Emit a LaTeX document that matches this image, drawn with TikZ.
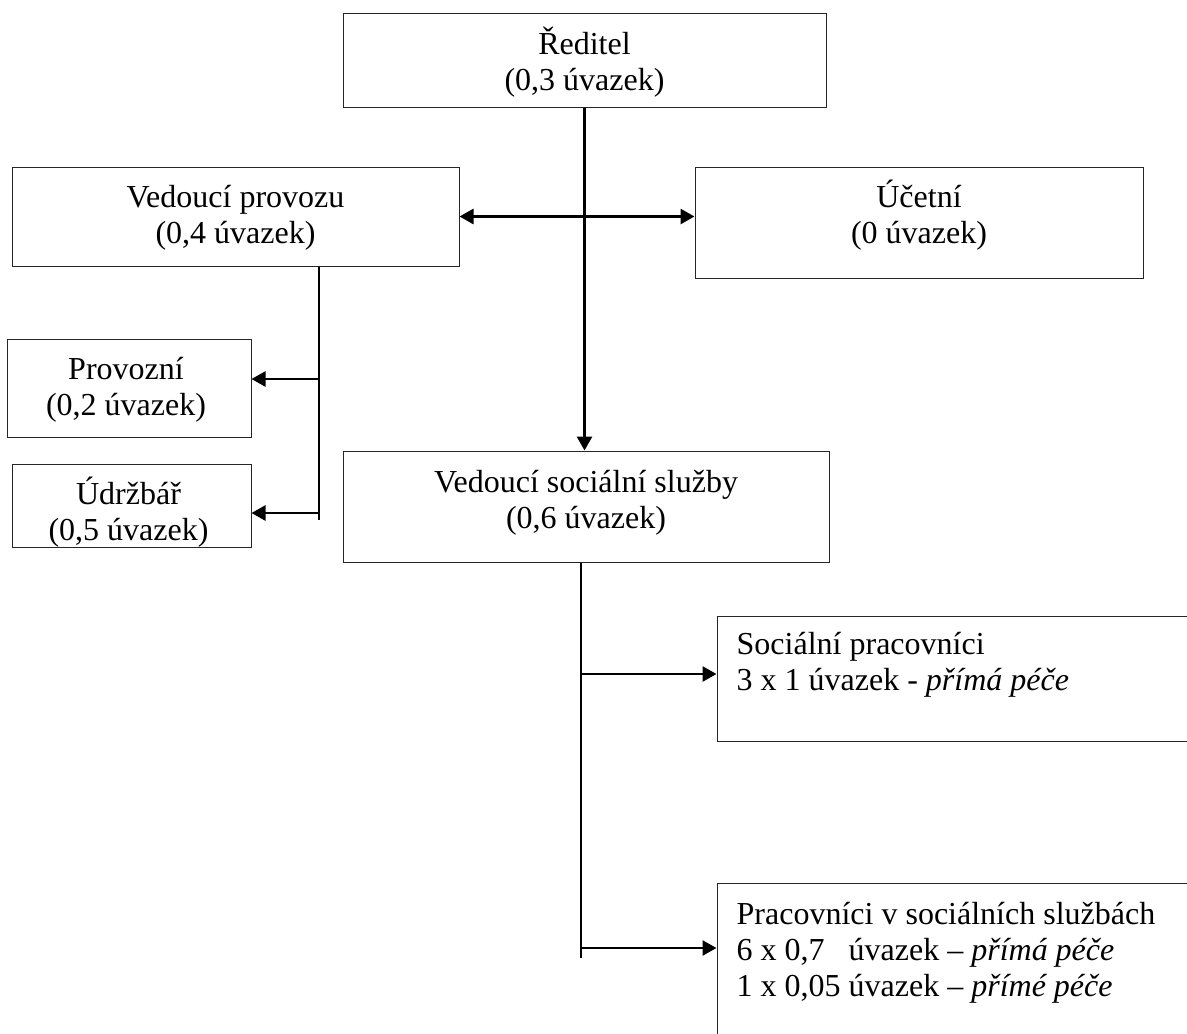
\documentclass[tikz,border=0pt]{standalone}
\usepackage{fontspec}
\setmainfont{Liberation Serif}
\usetikzlibrary{positioning,arrows.meta}
\tikzset{
  unit/.style={draw=black!85, line width=1pt, inner sep=0pt},
  lbl/.style={inner sep=0pt, align=center, font=\fontsize{32}{36}\selectfont},
  link/.style={line width=2.7pt},
  arr/.style={link, -{Triangle[length=14pt,width=15pt]}}
}
\begin{document}
\begin{tikzpicture}[x=1pt,y=-1pt]
  \useasboundingbox (0,0) rectangle (1187,1034);
  \clip (0,0) rectangle (1187,1034);
  \node[unit, minimum width=483pt, minimum height=94pt] (red) at (584.5,60) {};
  \node[unit, minimum width=447pt, minimum height=99pt] (vp) at (235.5,216.5) {};
  \node[unit, minimum width=448pt, minimum height=111pt] (uc) at (919,222.5) {};
  \node[unit, minimum width=244pt, minimum height=98pt] (prov) at (129,388) {};
  \node[unit, minimum width=239pt, minimum height=83pt] (udr) at (131.5,505.5) {};
  \node[unit, minimum width=486pt, minimum height=111pt] (vss) at (586,506.5) {};
  \node[unit, minimum width=483pt, minimum height=125pt] (spr) at (958.5,678.5) {};
  \node[unit, minimum width=483pt, minimum height=177pt] (pvs) at (958.5,971.5) {};

  \node[lbl, below=12pt of red.north] (redt) {\rule{0pt}{30pt}Ředitel\\(0,3 úvazek)};
  \node[lbl, below=11pt of vp.north] (vpt) {\rule{0pt}{30pt}Vedoucí provozu\\(0,4 úvazek)};
  \node[lbl, below=11pt of uc.north] (uct) {\rule{0pt}{30pt}Účetní\\(0 úvazek)};
  \node[lbl, below=11pt of prov.north, xshift=-3pt] (provt) {\rule{0pt}{30pt}Provozní\\(0,2 úvazek)};
  \node[lbl, below=11pt of udr.north, xshift=-3pt] (udrt) {\rule{0pt}{30pt}Údržbář\\(0,5 úvazek)};
  \node[lbl, below=12pt of vss.north] (vsst) {\rule{0pt}{30pt}Vedoucí sociální služby\\(0,6 úvazek)};
  \node[lbl, align=left, below right=9pt and 20pt of spr.north west] (sprt)
    {\rule{0pt}{30pt}Sociální pracovníci\\3 x 1 úvazek - \textit{přímá péče}};
  \node[lbl, align=left, below right=12pt and 20pt of pvs.north west] (pvst)
    {\rule{0pt}{30pt}Pracovníci v sociálních službách\\6 x 0,7~~~úvazek – \textit{přímá péče}\\1 x 0,05 úvazek – \textit{přímé péče}};

  \coordinate (pj) at (319,520);
  \coordinate (p1) at (319,379);
  \coordinate (p2) at (319,513);
  \coordinate (sj) at (581,958);
  \coordinate (s1) at (581,674);
  \coordinate (s2) at (581,948);

  \draw[arr] (red.south) -- (red.south |- vss.north);
  \draw[link, {Triangle[length=14pt,width=15pt]}-{Triangle[length=14pt,width=15pt]}] (vp.east) -- (vp.east -| uc.west);
  \draw[link] (vp.south -| pj) -- (pj);
  \draw[arr] (p1) -- (p1 -| prov.east);
  \draw[arr] (p2) -- (p2 -| udr.east);
  \draw[link] (vss.south -| sj) -- (sj);
  \draw[arr] (s1) -- (s1 -| spr.west);
  \draw[arr] (s2) -- (s2 -| pvs.west);
\end{tikzpicture}
\end{document}
